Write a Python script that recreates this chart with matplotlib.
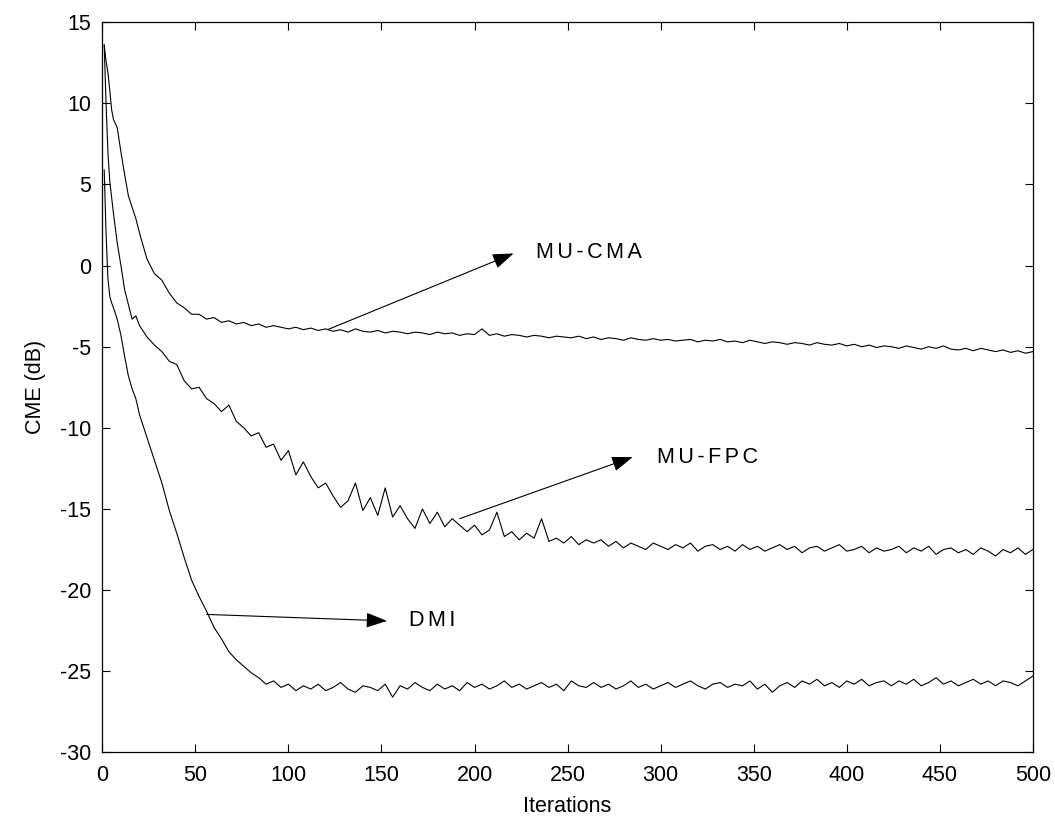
import numpy as np
import matplotlib
matplotlib.use('Agg')
import matplotlib.pyplot as plt
from matplotlib.patches import ArrowStyle

plt.rcParams['font.family'] = ['Liberation Sans', 'DejaVu Sans']
plt.rcParams['axes.unicode_minus'] = False

# iteration index: dense at the start, every 4 afterwards
iters = np.concatenate([[1, 2, 3, 4, 5, 6, 8, 10, 12, 14, 16, 18, 20],
                        np.arange(24, 501, 4)])

mu_cma = [
    13.6, 12.6, 11.9, 10.8, 9.6, 9.0, 8.5, 7.0, 5.6, 4.3, 3.6, 2.9, 2.0,
    0.4, -0.5, -0.9, -1.7, -2.3, -2.6, -3.0, -3.0, -3.3, -3.2,
    -3.5, -3.4, -3.6, -3.5, -3.7, -3.6, -3.8, -3.7, -3.8, -3.9,
    -3.8, -3.95, -3.85, -4.0, -3.9, -4.05, -3.95, -4.1, -3.9, -4.05,
    -4.1, -4.0, -4.15, -4.05, -4.1, -4.2, -4.1, -4.15, -4.25, -4.1,
    -4.2, -4.15, -4.3, -4.2, -4.25, -3.9, -4.3, -4.2, -4.35, -4.25,
    -4.3, -4.4, -4.3, -4.35, -4.45, -4.35, -4.4, -4.45, -4.35, -4.5,
    -4.4, -4.55, -4.45, -4.5, -4.6, -4.45, -4.55, -4.6, -4.5, -4.6,
    -4.55, -4.65, -4.6, -4.55, -4.7, -4.6, -4.65, -4.55, -4.7, -4.65,
    -4.75, -4.6, -4.7, -4.8, -4.7, -4.75, -4.85, -4.75, -4.8, -4.9,
    -4.75, -4.85, -4.9, -4.8, -4.95, -4.85, -5.0, -4.9, -5.05, -4.95,
    -5.0, -5.1, -4.95, -5.05, -5.15, -5.0, -5.1, -4.95, -5.15, -5.2,
    -5.1, -5.25, -5.1, -5.2, -5.3, -5.2, -5.35, -5.25, -5.4, -5.3,
]

mu_fpc = [
    13.6, 10.0, 7.0, 5.2, 4.2, 3.2, 1.4, 0.0, -1.5, -2.4, -3.3, -3.1, -3.7,
    -4.4, -4.9, -5.3, -5.9, -6.1, -7.1, -7.6, -7.5, -8.2, -8.5,
    -9.0, -8.6, -9.6, -10.0, -10.5, -10.3, -11.2, -11.0, -12.0, -11.4,
    -12.9, -12.1, -13.0, -13.7, -13.4, -14.2, -14.9, -14.5, -13.4, -15.1,
    -14.3, -15.4, -13.7, -15.5, -14.8, -15.6, -16.2, -15.0, -15.9, -15.2,
    -16.1, -15.6, -16.0, -16.4, -16.0, -16.6, -16.3, -15.2, -16.7, -16.4,
    -16.9, -16.5, -16.8, -15.6, -17.0, -16.8, -17.1, -16.7, -17.2, -16.9,
    -17.1, -16.9, -17.3, -17.0, -17.4, -17.1, -17.3, -17.5, -17.1, -17.3,
    -17.5, -17.2, -17.4, -17.1, -17.6, -17.3, -17.2, -17.5, -17.3, -17.6,
    -17.2, -17.5, -17.3, -17.6, -17.4, -17.2, -17.5, -17.3, -17.7, -17.4,
    -17.3, -17.6, -17.4, -17.2, -17.6, -17.5, -17.3, -17.7, -17.4, -17.6,
    -17.5, -17.3, -17.7, -17.4, -17.6, -17.3, -17.8, -17.5, -17.4, -17.7,
    -17.5, -17.8, -17.4, -17.6, -17.9, -17.5, -17.7, -17.4, -17.8, -17.5,
]

dmi = [
    5.9, 2.0, -0.8, -1.9, -2.3, -2.6, -3.3, -4.3, -5.6, -6.8, -7.6, -8.2, -9.2,
    -10.6, -12.0, -13.4, -15.1, -16.5, -18.0, -19.4, -20.4, -21.3, -22.3,
    -23.0, -23.8, -24.3, -24.7, -25.1, -25.4, -25.8, -25.6, -26.0, -25.8,
    -26.2, -25.9, -26.1, -25.8, -26.2, -26.0, -25.7, -26.1, -26.3, -25.9,
    -26.0, -26.2, -25.8, -26.6, -25.9, -26.1, -25.7, -26.0, -26.2, -25.8,
    -26.1, -25.9, -26.2, -25.7, -26.0, -25.8, -26.1, -25.9, -25.6, -26.0,
    -25.8, -26.1, -25.9, -25.7, -26.0, -25.8, -26.2, -25.6, -25.9, -26.0,
    -25.7, -26.0, -25.8, -26.1, -25.9, -25.6, -26.0, -25.8, -26.1, -25.9,
    -25.7, -26.0, -25.8, -25.6, -25.9, -26.1, -25.8, -25.7, -26.0, -25.8,
    -25.9, -25.6, -26.1, -25.8, -26.3, -25.9, -25.7, -26.0, -25.6, -25.8,
    -25.5, -25.9, -25.7, -26.0, -25.6, -25.8, -25.5, -25.9, -25.7, -25.6,
    -25.9, -25.6, -25.8, -25.5, -25.9, -25.7, -25.4, -25.8, -25.6, -25.9,
    -25.7, -25.5, -25.8, -25.6, -25.9, -25.6, -25.7, -25.9, -25.6, -25.3,
]

# label text, arrow tail (on curve), arrow tip / text position
labels = ['MU-CMA', 'MU-FPC', 'DMI']
arrow_from = [(121, -3.95), (192, -15.6), (56, -21.5)]
arrow_to = [(221, 0.75), (285, -11.8), (153, -21.9)]
text_at = [(233, 0.8), (298, -11.8), (165, -21.9)]

fig = plt.figure(figsize=(10.55, 8.24), dpi=100)
ax = fig.add_axes([0.097, 0.087, 0.882, 0.886])

for series in (mu_cma, mu_fpc, dmi):
    ax.plot(iters, series, color='black', lw=0.8)

head = ArrowStyle('-|>', head_length=1.0, head_width=0.36)
for lab, a, b, t in zip(labels, arrow_from, arrow_to, text_at):
    ax.annotate('', xy=b, xytext=a,
                arrowprops=dict(arrowstyle=head, color='black', lw=0.8,
                                mutation_scale=13, shrinkA=0, shrinkB=0))
    ax.text(t[0], t[1], '\u200a\u200a'.join(lab), fontsize=15.5,
            va='center', ha='left')

ax.set_xlim(0, 500)
ax.set_ylim(-30, 15)
ax.set_xticks(np.arange(0, 501, 50))
ax.set_yticks(np.arange(-30, 16, 5))
ax.tick_params(direction='in', top=True, right=True, length=6, width=0.8,
               labelsize=15.5)
ax.tick_params(axis='y', pad=8)
ax.tick_params(axis='x', pad=9)
for sp in ax.spines.values():
    sp.set_linewidth(0.9)

ax.set_xlabel('Iterations', fontsize=15.5, labelpad=7)
ax.set_ylabel('CME (dB)', fontsize=15.5, labelpad=10)

fig.savefig('out.png', dpi=100)
